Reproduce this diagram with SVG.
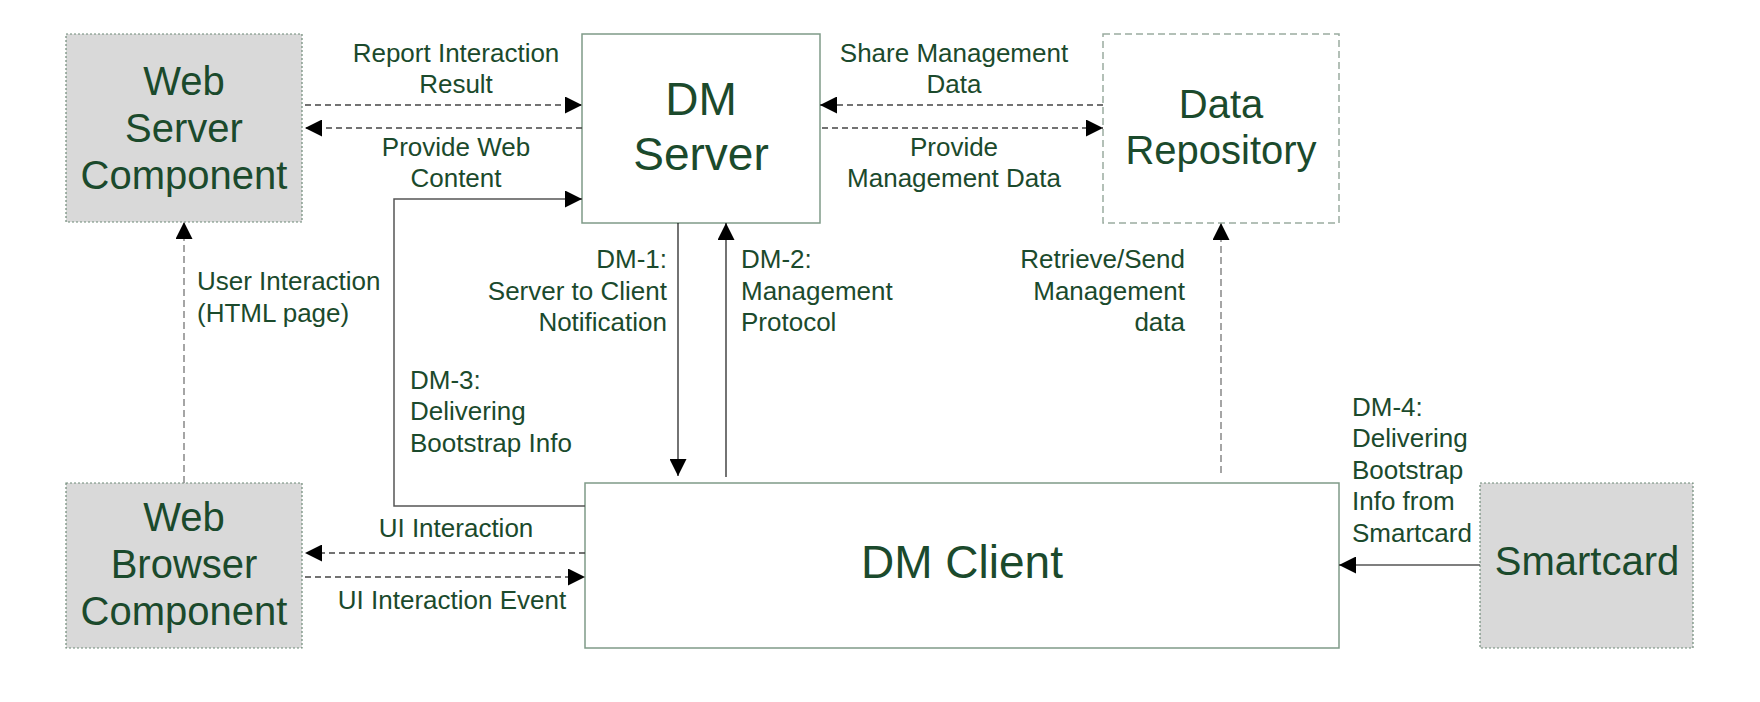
<svg xmlns="http://www.w3.org/2000/svg" width="1760" height="702" viewBox="0 0 1760 702">
<style>
  text { font-family: "Liberation Sans", Arial, sans-serif; fill: #1b4a2c; }
  .big { font-size: 40px; text-anchor: middle; }
  .huge { font-size: 46px; text-anchor: middle; }
  .lbl { font-size: 26px; }
  .mid { text-anchor: middle; }
  .end { text-anchor: end; }
  .gray { fill: #d9d9d9; stroke: #6f8a78; stroke-width: 1.2; stroke-dasharray: 2 2; }
  .solidbox { fill: #ffffff; stroke: #7f9a88; stroke-width: 1.5; }
  .dashbox { fill: #ffffff; stroke: #9aaca0; stroke-width: 1.5; stroke-dasharray: 7 4; }
  .dash { fill: none; stroke: #444; stroke-width: 1.3; stroke-dasharray: 6 4; }
  .dashlight { fill: none; stroke: #888; stroke-width: 1.5; stroke-dasharray: 7 4; }
  .solid { fill: none; stroke: #555; stroke-width: 1.5; }
  .thin { fill: none; stroke: #000; stroke-width: 1.1; }
</style>
<defs>
  <marker id="arr" markerUnits="userSpaceOnUse" markerWidth="17" markerHeight="17" refX="17" refY="8.5" orient="auto">
    <path d="M0,0 L17,8.5 L0,17 z" fill="#000"/>
  </marker>
</defs>
<rect width="1760" height="702" fill="#ffffff"/>

<g id="web-server">
  <rect class="gray" x="66" y="34" width="236" height="188"/>
  <text class="big" x="184" y="95">Web</text>
  <text class="big" x="184" y="142">Server</text>
  <text class="big" x="184" y="189">Component</text>
</g>
<g id="dm-server">
  <rect class="solidbox" x="582" y="34" width="238" height="189"/>
  <text class="huge" x="701" y="115">DM</text>
  <text class="huge" x="701" y="170">Server</text>
</g>
<g id="data-repository">
  <rect class="dashbox" x="1103" y="34" width="236" height="189"/>
  <text class="big" x="1221" y="118">Data</text>
  <text class="big" x="1221" y="164">Repository</text>
</g>
<g id="web-browser">
  <rect class="gray" x="66" y="483" width="236" height="165"/>
  <text class="big" x="184" y="531">Web</text>
  <text class="big" x="184" y="578">Browser</text>
  <text class="big" x="184" y="625">Component</text>
</g>
<g id="dm-client">
  <rect class="solidbox" x="585" y="483" width="754" height="165"/>
  <text class="huge" x="962" y="578">DM Client</text>
</g>
<g id="smartcard">
  <rect class="gray" x="1480" y="483" width="213" height="165"/>
  <text class="big" x="1587" y="575">Smartcard</text>
</g>

<g id="connectors">
  <line class="dash" x1="305" y1="105" x2="582" y2="105" marker-end="url(#arr)"/>
  <line class="dash" x1="582" y1="128" x2="305" y2="128" marker-end="url(#arr)"/>
  <path class="solid" d="M585,506 H394 V199 H582" marker-end="url(#arr)"/>
  <line class="dash" x1="1103" y1="105" x2="820" y2="105" marker-end="url(#arr)"/>
  <line class="dash" x1="822" y1="128" x2="1103" y2="128" marker-end="url(#arr)"/>
  <line class="thin" x1="678" y1="223" x2="678" y2="476" marker-end="url(#arr)"/>
  <line class="thin" x1="726" y1="477" x2="726" y2="223" marker-end="url(#arr)"/>
  <line class="dashlight" x1="1221" y1="473" x2="1221" y2="223" marker-end="url(#arr)"/>
  <line class="dashlight" x1="184" y1="483" x2="184" y2="222" marker-end="url(#arr)"/>
  <line class="dash" x1="585" y1="553" x2="305" y2="553" marker-end="url(#arr)"/>
  <line class="dash" x1="305" y1="577" x2="585" y2="577" marker-end="url(#arr)"/>
  <line class="solid" x1="1480" y1="565" x2="1339" y2="565" marker-end="url(#arr)"/>
</g>

<g id="labels">
  <text class="lbl mid" x="456" y="62">Report Interaction</text>
  <text class="lbl mid" x="456" y="93">Result</text>
  <text class="lbl mid" x="456" y="156">Provide Web</text>
  <text class="lbl mid" x="456" y="187">Content</text>

  <text class="lbl mid" x="954" y="62">Share Management</text>
  <text class="lbl mid" x="954" y="93">Data</text>
  <text class="lbl mid" x="954" y="156">Provide</text>
  <text class="lbl mid" x="954" y="187">Management Data</text>

  <text class="lbl" x="197" y="290">User Interaction</text>
  <text class="lbl" x="197" y="322">(HTML page)</text>

  <text class="lbl end" x="667" y="268">DM-1:</text>
  <text class="lbl end" x="667" y="300">Server to Client</text>
  <text class="lbl end" x="667" y="331">Notification</text>

  <text class="lbl" x="741" y="268">DM-2:</text>
  <text class="lbl" x="741" y="300">Management</text>
  <text class="lbl" x="741" y="331">Protocol</text>

  <text class="lbl" x="410" y="389">DM-3:</text>
  <text class="lbl" x="410" y="420">Delivering</text>
  <text class="lbl" x="410" y="452">Bootstrap Info</text>

  <text class="lbl end" x="1185" y="268">Retrieve/Send</text>
  <text class="lbl end" x="1185" y="300">Management</text>
  <text class="lbl end" x="1185" y="331">data</text>

  <text class="lbl" x="1352" y="416">DM-4:</text>
  <text class="lbl" x="1352" y="447">Delivering</text>
  <text class="lbl" x="1352" y="479">Bootstrap</text>
  <text class="lbl" x="1352" y="510">Info from</text>
  <text class="lbl" x="1352" y="542">Smartcard</text>

  <text class="lbl mid" x="456" y="537">UI Interaction</text>
  <text class="lbl mid" x="452" y="609">UI Interaction Event</text>
</g>
</svg>
